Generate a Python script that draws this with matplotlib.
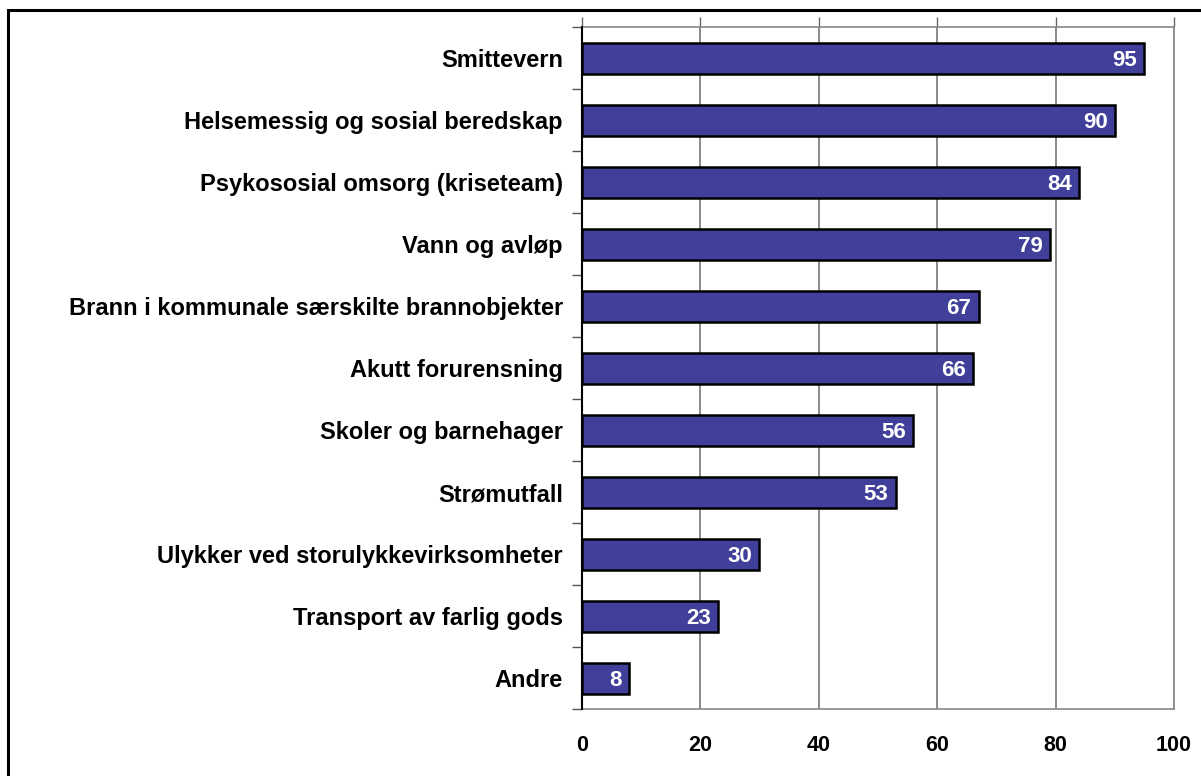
import matplotlib.pyplot as plt
from matplotlib.patches import Rectangle

plt.rcParams['font.family'] = ['Liberation Sans', 'DejaVu Sans']

# Kommunale beredskapsområder, andel (prosent)
kategorier = [
    'Smittevern',
    'Helsemessig og sosial beredskap',
    'Psykososial omsorg (kriseteam)',
    'Vann og avløp',
    'Brann i kommunale særskilte brannobjekter',
    'Akutt forurensning',
    'Skoler og barnehager',
    'Strømutfall',
    'Ulykker ved storulykkevirksomheter',
    'Transport av farlig gods',
    'Andre',
]
verdier = [95, 90, 84, 79, 67, 66, 56, 53, 30, 23, 8]
xticks = [0, 20, 40, 60, 80, 100]

fig = plt.figure(figsize=(12.01, 7.76), dpi=100)
ax = fig.add_axes([0.4843, 0.0863, 0.4932, 0.8789])

n = len(kategorier)
ypos = list(range(n))[::-1]
ax.barh(ypos, verdier, height=0.5, color='#40409A', edgecolor='black',
        linewidth=1.8, zorder=3)

for y, v in zip(ypos, verdier):
    ax.text(v - 1.2, y, str(v), ha='right', va='center_baseline',
            color='white', fontsize=16, fontweight='bold', zorder=4)

ax.set_xlim(0, 100)
ax.set_ylim(-0.5, n - 0.5)

# y-akse: kategorinavn midt i feltet, tickmerker på feltgrensene
ax.set_yticks(ypos)
ax.set_yticklabels(kategorier, fontsize=17, fontweight='bold')
ax.tick_params(axis='y', which='major', length=0, pad=13.5)
ax.set_yticks([i - 0.5 for i in range(n + 1)], minor=True)
ax.tick_params(axis='y', which='minor', length=7, width=1, color='#555555',
               direction='out')

ax.set_xticks(xticks)
ax.set_xticklabels([str(t) for t in xticks], fontsize=15.5, fontweight='bold')
ax.tick_params(axis='x', which='major', bottom=False, top=True,
               labelbottom=True, labeltop=False, length=7, width=1,
               color='#666666', pad=12)
ax.xaxis.grid(True, color='#777777', linewidth=1.2, zorder=0)

for side in ['top', 'right', 'bottom']:
    ax.spines[side].set_color('#888888')
    ax.spines[side].set_linewidth(1.2)
ax.spines['left'].set_color('black')
ax.spines['left'].set_linewidth(1.5)
ax.spines['left'].set_zorder(5)

# ramme rundt figuren (venstre og øverst)
fig.patches.append(Rectangle((7.5 / 1201, -0.1), 1.2, 1.1 - 10 / 776,
                             transform=fig.transFigure, fill=False,
                             edgecolor='black', linewidth=2.2))

fig.savefig('out.png', dpi=100)
